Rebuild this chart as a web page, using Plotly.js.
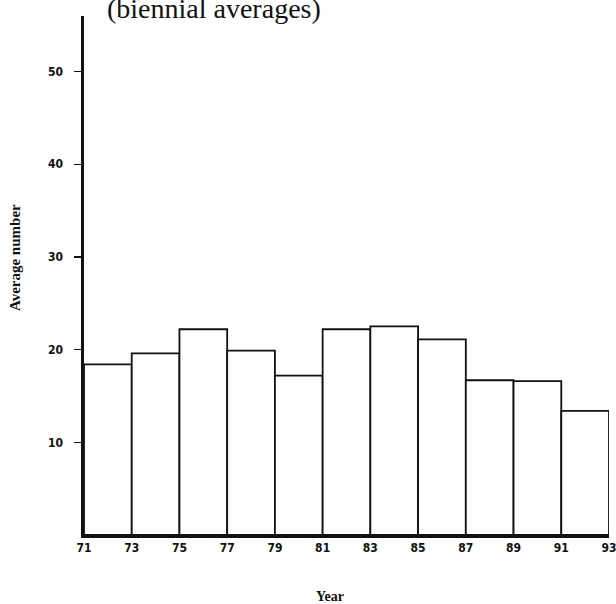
<!DOCTYPE html>
<html>
<head>
<meta charset="utf-8">
<script src="https://cdn.plot.ly/plotly-3.0.1.min.js"></script>
<style>html,body{margin:0;padding:0;background:#fff;}#chart{width:616px;height:604px;}</style>
</head>
<body>
<div id="chart"></div>
<script>
// Biennial periods (start year of each two-year span)
const periodStarts = [71, 73, 75, 77, 79, 81, 83, 85, 87, 89, 91];
// Average number per biennial period
const averages = [18.4, 19.6, 22.2, 19.9, 17.2, 22.2, 22.5, 21.1, 16.7, 16.6, 13.4];
// X tick labels
const yearTicks = [71, 73, 75, 77, 79, 81, 83, 85, 87, 89, 91, 93];
const yTicks = [10, 20, 30, 40, 50];

const trace = {
  type: 'bar',
  x: periodStarts.map(s => s + 1),
  y: averages,
  width: periodStarts.map(() => 2),
  marker: {color: '#ffffff', line: {color: '#111111', width: 1.8}},
  hoverinfo: 'x+y'
};

const tickFont = {family: 'DejaVu Sans Condensed, DejaVu Sans, sans-serif', size: 12, color: '#111', weight: 'bold'};
const serif = 'Liberation Serif, Times New Roman, serif';

const layout = {
  width: 616, height: 604,
  margin: {l: 84, r: 7, t: 16, b: 69},
  paper_bgcolor: '#fff', plot_bgcolor: '#fff',
  showlegend: false,
  bargap: 0,
  xaxis: {
    range: [71, 93],
    tickvals: yearTicks,
    ticktext: yearTicks.map(String),
    ticks: '',
    ticklabeloverflow: 'allow',
    showgrid: false, zeroline: false,
    showline: true, linecolor: '#111', linewidth: 2.5,
    tickfont: tickFont
  },
  yaxis: {
    range: [0, 56],
    tickvals: yTicks,
    ticks: 'outside', ticklen: 7, tickwidth: 1.5, tickcolor: '#111',
    ticklabelstandoff: 8,
    showgrid: false, zeroline: false,
    showline: true, linecolor: '#111', linewidth: 3.5,
    tickfont: tickFont
  },
  annotations: [{
    text: '(biennial averages)',
    xref: 'paper', yref: 'paper',
    x: 0.248, y: 0.981, xanchor: 'center', yanchor: 'bottom',
    showarrow: false,
    font: {family: serif, size: 28, color: '#111'}
  }, {
    text: 'Average number',
    xref: 'paper', yref: 'paper',
    x: -0.131, y: 0.534, xanchor: 'center', yanchor: 'middle',
    textangle: -90, showarrow: false,
    font: {family: serif, size: 15, color: '#111', weight: 'bold'}
  }, {
    text: 'Year',
    xref: 'paper', yref: 'paper',
    x: 0.469, y: -0.119, xanchor: 'center', yanchor: 'middle',
    showarrow: false,
    font: {family: serif, size: 14, color: '#111', weight: 'bold'}
  }]
};

Plotly.newPlot('chart', [trace], layout, {displayModeBar: false, staticPlot: true});
</script>
</body>
</html>
